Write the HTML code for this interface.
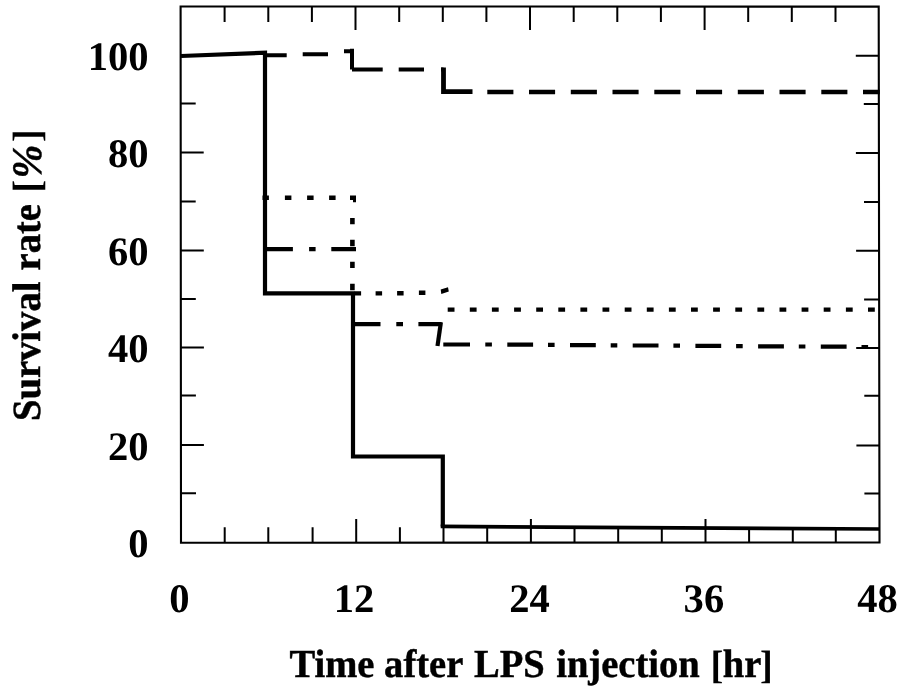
<!DOCTYPE html>
<html lang="en"><head><meta charset="utf-8"><title>Survival rate after LPS injection</title>
<style>html,body{margin:0;padding:0;background:#fff}svg{display:block}</style></head>
<body>
<svg width="900" height="690" viewBox="0 0 900 690">
<rect width="900" height="690" fill="#fff"/>
<path d="M180.6 6.5L878.7 6.6L879.5 542.5L181 542.7Z" fill="none" stroke="#000" stroke-width="2.1"/>
<path d="M224.6 6.6v15.3M224.7 542.6v-15.3M268.3 6.6v15.3M268.3 542.6v-15.3M311.9 6.6v15.3M312.6 542.6v-15.3M355.5 6.6v23.5M356.2 542.6v-23.5M399.2 6.6v15.3M399.9 542.6v-15.3M442.8 6.6v15.3M443.5 542.6v-15.3M486.4 6.6v15.3M487.2 542.6v-15.3M530.0 6.6v23.5M530.9 542.6v-23.5M573.7 6.6v15.3M574.5 542.6v-15.3M617.3 6.6v15.3M618.2 542.6v-15.3M660.9 6.6v15.3M661.8 542.6v-15.3M704.6 6.6v23.5M705.5 542.6v-23.5M748.2 6.6v15.3M749.1 542.6v-15.3M791.8 6.6v15.3M792.8 542.6v-15.3M835.5 6.6v15.3M835.8 542.6v-15.3M181.0 493.2h15M879.4 493.6h-15M180.9 445.0h23M879.4 445.4h-23M180.9 395.4h15M879.3 395.8h-15M180.9 347.5h23M879.2 347.9h-23M180.8 299.0h15M879.1 299.4h-15M180.8 250.4h23M879.1 250.8h-23M180.7 201.5h15M879.0 201.9h-15M180.7 152.5h23M878.9 152.9h-23M180.7 103.6h15M878.8 104.0h-15M180.6 55.4h23M878.8 55.8h-23" stroke="#000" stroke-width="2" fill="none"/>
<path d="M181 56 L265 52.7 L265 293.3 L353 293.3 L353 456.5 L442.8 456.5 L442.8 526.4" fill="none" stroke="#000" stroke-width="4.2" stroke-linejoin="miter"/>
<path d="M440.7 526.4 L879 529" fill="none" stroke="#000" stroke-width="3.7"/>
<path d="M266.7 55.3H286.7M302.7 54.2H328M344 51.3H352M352 48.8V69.5M352 69.5H382.7M398.7 69.5H424M441 69.5H443.5" fill="none" stroke="#000" stroke-width="4"/>
<path d="M443.5 67.5V91.6H472.5" fill="none" stroke="#000" stroke-width="4.8"/>
<path d="M487.3 92H513.4M529.0 92H555.1M570.8 92H596.9M612.5 92H638.6M654.3 92H680.4M696.0 92H722.1M737.8 92H763.9M779.5 92H805.6M821.3 92H847.4M863.0 92H879.8" fill="none" stroke="#000" stroke-width="4.4"/>
<path d="M262.5 195.6h6.4v4.4h-6.4zM284.9 195.6h6.5v4.4h-6.5zM307.1 195.6h6.5v4.4h-6.5zM329.1 195.6h6.5v4.4h-6.5zM350 195.6h6v6.6h-3v-2.2h-3zM350.1 217.9h4.6v6.4h-4.6zM350.1 239.8h4.6v6.4h-4.6zM350.1 261.7h4.6v6.4h-4.6zM350.1 283.8h4.6v6.4h-4.6zM354.6 291.2h6.5v4.4h-6.5zM375.6 291.2h6.5v4.4h-6.5zM397.1 291.1h6.5v4.4h-6.5zM418.9 290.6h6.5v4.4h-6.5zM440.7 289.6L448 287.2L448.8 291.6L441.3 294zM447.7 307.4h6.8v4.4h-6.8zM469.8 307.4h6.8v4.4h-6.8zM491.9 307.4h6.8v4.4h-6.8zM514.1 307.4h6.8v4.4h-6.8zM536.2 307.4h6.8v4.4h-6.8zM558.3 307.4h6.8v4.4h-6.8zM580.4 307.4h6.8v4.4h-6.8zM602.5 307.4h6.8v4.4h-6.8zM624.7 307.4h6.8v4.4h-6.8zM646.8 307.4h6.8v4.4h-6.8zM668.9 307.4h6.8v4.4h-6.8zM691.0 307.4h6.8v4.4h-6.8zM713.1 307.4h6.8v4.4h-6.8zM735.3 307.4h6.8v4.4h-6.8zM757.4 307.4h6.8v4.4h-6.8zM779.5 307.4h6.8v4.4h-6.8zM801.6 307.4h6.8v4.4h-6.8zM823.7 307.4h6.8v4.4h-6.8zM845.9 307.4h6.8v4.4h-6.8zM868.0 307.4h6.8v4.4h-6.8z" fill="#000"/>
<path d="M265 249.1H292.9M309.1 249.1H315.6M331.3 249.1H356M352 324.2H380.5M396.3 324.2H403M418.4 324.2H441.6M443.3 344.5H470M485.3 344.5h6.6M507.3 344.6h25.8M548.0 344.9h6.6M570.0 345.1h25.8M610.7 345.3h6.6M632.7 345.5h25.8M673.4 345.7h6.6M695.4 345.9h25.8M736.1 346.1h6.6M758.1 346.3h25.8M798.8 346.5h6.6M820.8 346.7h25.8M861.5 347.0h6.6" fill="none" stroke="#000" stroke-width="4.2"/>
<path d="M440.9 322.3L437.5 346" fill="none" stroke="#000" stroke-width="4.2"/>
<g font-family="'Liberation Serif', serif" font-weight="bold" fill="#000" stroke="#000" stroke-width="0.45" text-rendering="geometricPrecision">
<g font-size="40.6" stroke="none">
<text x="148.6" y="557.3" text-anchor="end">0</text>
<text x="148.6" y="459.7" text-anchor="end">20</text>
<text x="148.6" y="362.3" text-anchor="end">40</text>
<text x="148.6" y="264.9" text-anchor="end">60</text>
<text x="148.6" y="167.0" text-anchor="end">80</text>
<text x="148.6" y="69.6" text-anchor="end">100</text>
<text x="179.30" y="612.0" text-anchor="middle">0</text>
<text x="354.10" y="612.0" text-anchor="middle">12</text>
<text x="529.50" y="612.0" text-anchor="middle">24</text>
<text x="703.90" y="612.0" text-anchor="middle">36</text>
<text x="877.60" y="612.0" text-anchor="middle">48</text>
</g>
<text font-size="39.7" transform="scale(0.972 1)" y="677.1"><tspan x="297.74">Time</tspan> <tspan x="395.16">after</tspan> <tspan x="487.65">LPS</tspan> <tspan x="572.22">injection</tspan> <tspan x="730.97" y="677.8" font-size="39.5" stroke="none">[</tspan><tspan x="743.62" y="677.1">hr</tspan><tspan x="781.79" y="677.8" font-size="39.5" stroke="none">]</tspan></text>
<text font-size="40" transform="translate(39.8 0) rotate(-90) scale(0.965 1)" y="0"><tspan x="-436.27" y="0">Survival</tspan> <tspan x="-280.31" y="0">rate</tspan> <tspan x="-199.38" y="-0.3" font-size="39.5" stroke="none">[</tspan><tspan x="-184.97" y="1.2" font-style="italic" font-size="42">%</tspan><tspan x="-147.15" y="-0.3" font-size="39.5" stroke="none">]</tspan></text>
</g>
</svg>
</body></html>
